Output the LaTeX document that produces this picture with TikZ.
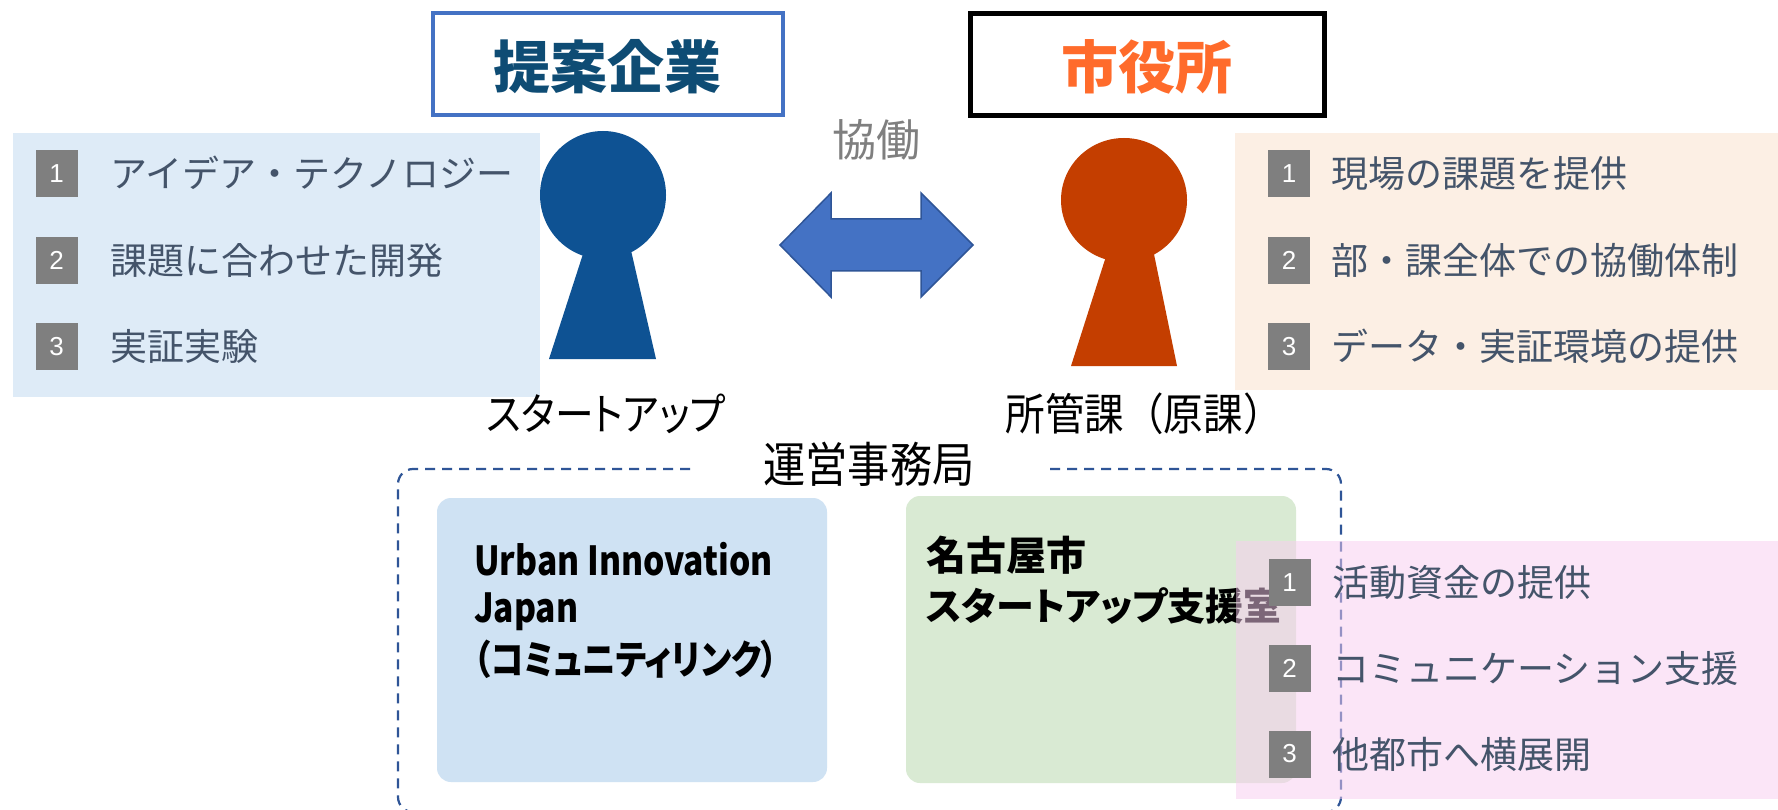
\documentclass[tikz,border=0pt]{standalone}
\usepackage{fontspec}
\usepackage{graphicx}
\setmainfont{Noto Sans CJK JP}
\newfontfamily\pfont{Noto Sans CJK JP}[RawFeature=+palt]
\newfontfamily\numfont{Liberation Sans}
\newcommand{\narrow}[2]{\scalebox{#1}[1]{#2}}
\definecolor{panelblue}{RGB}{222,235,247}
\definecolor{panelorange}{RGB}{252,239,228}
\definecolor{panelpink}{RGB}{249,205,241}
\definecolor{listtext}{RGB}{68,84,106}
\definecolor{numgrey}{RGB}{127,127,127}
\definecolor{personblue}{RGB}{14,82,147}
\definecolor{personorange}{RGB}{196,62,0}
\definecolor{titleblue}{RGB}{14,76,116}
\definecolor{titleorange}{RGB}{255,107,43}
\definecolor{frameblue}{RGB}{68,114,196}
\definecolor{darkblue}{RGB}{47,85,151}
\definecolor{boxblue}{RGB}{207,226,243}
\definecolor{boxgreen}{RGB}{217,234,211}
\begin{document}
\begin{tikzpicture}[x=1pt,y=-1pt,
  numbox/.style={fill=numgrey, minimum width=42pt, minimum height=47pt, inner sep=0pt,
    text=white, font=\numfont\fontsize{26}{26}\selectfont},
  listitem/.style={anchor=base west, inner sep=0pt, text=listtext,
    font=\fontsize{37}{40}\selectfont},
  titlebox/.style={draw, minimum width=350pt, minimum height=102pt, inner sep=0pt},
  titletext/.style={anchor=base, inner sep=0pt, font=\bfseries\fontsize{57}{60}\selectfont},
  label/.style={anchor=base, inner sep=0pt, font=\pfont\fontsize{44}{48}\selectfont},
  boxtext/.style={anchor=base west, inner sep=0pt, font=\pfont\bfseries\fontsize{38}{40}\selectfont},
  dashbox/.style={draw=darkblue, line width=2.2pt, dash pattern=on 10pt off 7pt, rounded corners=15pt},
  roundbox/.style={rounded corners=14pt}
]
\useasboundingbox (0,0) rectangle (1778,810);
\fill[white] (0,0) rectangle (1778,810);

% side panels
\fill[panelblue] (13,133) rectangle (540,397);
\fill[panelorange] (1235,133) rectangle (1778,390);

% title boxes
\node[titlebox, draw=frameblue, line width=4pt] (tbl) at (607.5,64.5) {};
\node[titletext, text=titleblue] (tblt) at (607,89) {提案企業};
\node[titlebox, draw=black, line width=5pt, minimum width=354pt] (tor) at (1147,64.5) {};
\node[titletext, text=titleorange] (tort) at (1147,89) {市役所};

% persons
\fill[personblue] (603,195) ellipse [x radius=63pt, y radius=64pt];
\fill[personblue] (594,220) -- (624,220) -- (656,359) -- (549,359) -- cycle;
\fill[personorange] (1124,200) ellipse [x radius=63pt, y radius=62pt];
\fill[personorange] (1116,225) -- (1148,225) -- (1177,366) -- (1071,366) -- cycle;

% double arrow
\draw[fill=frameblue, draw=darkblue, line width=1.5pt, line join=miter]
  (780,245) -- (831,193) -- (831,219) -- (921,219) -- (921,193) -- (973,245)
  -- (921,297) -- (921,271) -- (831,271) -- (831,297) -- cycle;
\node[anchor=base, inner sep=0pt, text=numgrey, font=\fontsize{44}{48}\selectfont] (kyodo) at (876,157) {協働};

% left list
\node[numbox] (l1) at (56.5,174) {1};
\node[numbox] (l2) at (56.5,260.5) {2};
\node[numbox] (l3) at (56.5,346.5) {3};
\node[listitem] (lt1) at (110,188) {アイデア・テクノロジー};
\node[listitem] (lt2) at (110,274.5) {課題に合わせた開発};
\node[listitem] (lt3) at (110,360.5) {実証実験};

% right list
\node[numbox] (r1) at (1289,174) {1};
\node[numbox] (r2) at (1289,260.5) {2};
\node[numbox] (r3) at (1289,346.5) {3};
\node[listitem] (rt1) at (1331,188) {現場の課題を提供};
\node[listitem] (rt2) at (1331,274.5) {部・課全体での協働体制};
\node[listitem] (rt3) at (1331,360.5) {データ・実証環境の提供};

% person labels
\node[label] (su) at (606,430) {\narrow{0.88}{スタートアップ}};
\node[label, font=\fontsize{44}{48}\selectfont] (sk) at (1144,430) {\narrow{0.9}{所管課（原課）}};

% secretariat
\node[label, font=\pfont\fontsize{48}{50}\selectfont] (jim) at (869,482) {\narrow{0.88}{運営事務局}};
\coordinate (dl) at (690,469);
\coordinate (dr) at (1049,469);
\draw[dashbox] (dl) -| (398,812) -| (1341,469) -- (dr);

\fill[boxblue, roundbox] (437,498) rectangle (827,782);
\fill[boxgreen, roundbox] (906,496) rectangle (1296,783);
\node[boxtext, font=\pfont\bfseries\fontsize{40}{42}\selectfont] (u1) at (474,575) {\narrow{0.84}{Urban Innovation}};
\node[boxtext, font=\pfont\bfseries\fontsize{40}{42}\selectfont] (u2) at (474,622) {\narrow{0.84}{Japan}};
\node[boxtext, font=\pfont\bfseries\fontsize{40}{42}\selectfont] (u3) at (474,674) {\narrow{0.84}{（コミュニティリンク）}};
\node[boxtext, font=\bfseries\fontsize{40}{42}\selectfont] (n1) at (926,570) {名古屋市};
\node[boxtext] (n2) at (926,620) {スタートアップ支援室};

% pink panel (semi-transparent)
\fill[panelpink, fill opacity=0.5] (1236,541) rectangle (1778,799);
\node[numbox] (p1) at (1289.5,582.5) {1};
\node[numbox] (p2) at (1289.5,668.5) {2};
\node[numbox] (p3) at (1289.5,754) {3};
\node[listitem] (pt1) at (1332,596.5) {活動資金の提供};
\node[listitem] (pt2) at (1332,682.5) {コミュニケーション支援};
\node[listitem] (pt3) at (1332,768) {他都市へ横展開};
\end{tikzpicture}
\end{document}
